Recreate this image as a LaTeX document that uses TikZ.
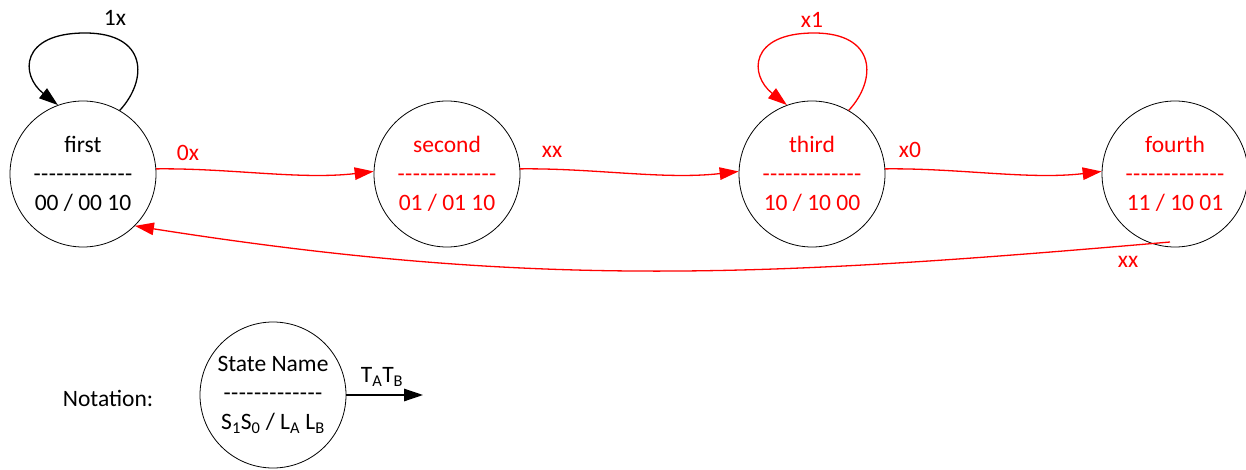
\documentclass[tikz,border=0pt]{standalone}
\usepackage{fontspec}
\setmainfont{Carlito}
\usetikzlibrary{arrows.meta,calc}
\newcommand\hy{-\kern0.45pt}
\newcommand\dashrow{\hy\hy\hy\hy\hy\hy\hy\hy\hy\hy\hy\hy-}
\begin{document}
\begin{tikzpicture}[x=1pt,y=-1pt,
  txt/.style={font=\fontsize{23.5}{29}\selectfont},
  state/.style={txt,circle,draw=black,line width=0.8pt,minimum size=146pt,inner sep=0pt,align=center},
  edge/.style={line width=1.3pt,-{Triangle[length=19pt,width=12.5pt]}},
  redge/.style={edge,red}]
\useasboundingbox (0,0) rectangle (1246,470);
% states
\node[state] (first) at (83,174) {first\\\dashrow\\00 / 00 10};
\node[state,text=red] (second) at (447,174) {second\\\dashrow\\01 / 01 10};
\node[state,text=red] (third) at (812,174) {third\\\dashrow\\10 / 10 00};
\node[state,text=red] (fourth) at (1175,174) {fourth\\\dashrow\\11 / 10 01};
% transitions
\draw[redge] (first.4) .. controls (230,168) and (300,180) .. (second.178);
\draw[redge] (second.4) .. controls (594,168) and (664,180) .. (third.178);
\draw[redge] (third.4) .. controls (959,168) and (1029,180) .. (fourth.178);
\coordinate (back) at ($(fourth.center)+(-5,68)$);
\draw[redge] (back) .. controls (766,277) and (536,289) .. (first.-45);
\coordinate (top1) at (85,33);
\coordinate (top3) at (814,33);
\draw[edge] (first.60) .. controls (148,80) and (148,33) .. (top1) .. controls (20,33) and (20,75) .. (first.110);
\draw[redge] (third.60) .. controls (877,80) and (877,33) .. (top3) .. controls (749,33) and (749,75) .. (third.110);
% labels
\node[txt] (l1x) at (115,18) {1x};
\node[txt,text=red] (lx1) at (812,20) {x1};
\node[txt,text=red] (l0x) at (188,153) {0x};
\node[txt,text=red] (lxx) at (552,152) {xx};
\node[txt,text=red] (lx0) at (910,150) {x0};
\node[txt,text=red] (lxxb) at (1128,262) {xx};
% notation
\node[txt] (notation) at (108,398) {Notation:};
\node[state] (note) at (273,395) {State Name\\\dashrow\\S\textsubscript{1}S\textsubscript{0} / L\textsubscript{A} L\textsubscript{B}};
\coordinate (noteend) at (423,395);
\draw[edge] (note.east) -- (noteend);
\node[txt] (tatb) at (382,377) {T\textsubscript{A}T\textsubscript{B}};
\end{tikzpicture}
\end{document}
